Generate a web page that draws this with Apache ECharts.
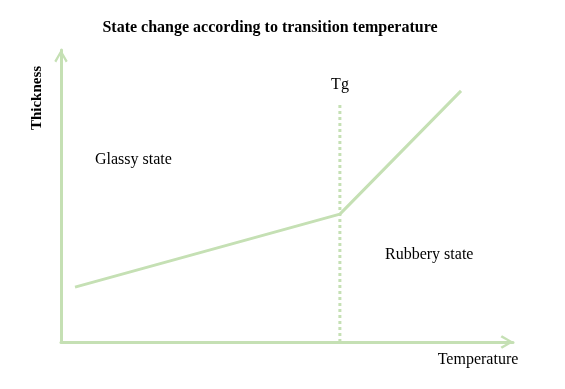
<!DOCTYPE html>
<html>
<head>
<meta charset="utf-8">
<script src="https://cdn.jsdelivr.net/npm/echarts@6/dist/echarts.min.js"></script>
<style>html,body{margin:0;padding:0;background:#fff}#c{width:565px;height:389px}</style>
</head>
<body>
<div id="c"></div>
<script>
const lineX = [3.1, 61.7, 88.5];
const lineY = [18.8, 43.8, 86.0];
const tgX = [61.7, 61.7];
const tgY = [0, 81.8];
const titleText = 'State change according to transition temperature';
const labels = { tg: 'Tg', glassy: 'Glassy state', rubbery: 'Rubbery state', yName: 'Thickness', xName: 'Temperature' };

const green = '#c5e0b4';
const font = '"Liberation Serif","Times New Roman",serif';
const chevron = 'path://M0,12 L7,0 L14,12 L12,13.6 L7,4.4 L2,13.6 Z';
const chart = echarts.init(document.getElementById('c'), null, { renderer: 'canvas' });
const axisCommon = {
  type: 'value', min: 0, max: 100,
  axisLine: { show: true, symbol: ['none', chevron], symbolSize: [14, 13], symbolOffset: [0, -6], lineStyle: { color: green, width: 3 } },
  axisTick: { show: false }, axisLabel: { show: false }, splitLine: { show: false }
};
chart.setOption({
  animation: false,
  backgroundColor: '#fff',
  grid: { left: 61, right: 52, top: 50, bottom: 47 },
  xAxis: axisCommon,
  yAxis: axisCommon,
  series: [
    {
      type: 'line', data: lineX.map((x, i) => [x, lineY[i]]),
      symbol: 'none', lineStyle: { color: green, width: 3 }
    },
    {
      type: 'line', data: tgX.map((x, i) => [x, tgY[i]]),
      symbol: 'none', lineStyle: { color: green, width: 3, type: [3, 3] }
    }
  ],
  graphic: [
    { type: 'text', x: 270, y: 28, style: { text: titleText, font: 'bold 16px ' + font, fill: '#000', align: 'center', verticalAlign: 'middle' } },
    { type: 'text', x: 340, y: 85, style: { text: labels.tg, font: '16px ' + font, fill: '#000', align: 'center', verticalAlign: 'middle' } },
    { type: 'text', x: 95, y: 160, style: { text: labels.glassy, font: '16px ' + font, fill: '#000', verticalAlign: 'middle' } },
    { type: 'text', x: 385, y: 255, style: { text: labels.rubbery, font: '16px ' + font, fill: '#000', verticalAlign: 'middle' } },
    { type: 'text', x: 37, y: 98, rotation: Math.PI / 2, style: { text: labels.yName, font: 'bold 15px ' + font, fill: '#000', align: 'center', verticalAlign: 'middle' } },
    { type: 'text', x: 478, y: 360, style: { text: labels.xName, font: '16px ' + font, fill: '#000', align: 'center', verticalAlign: 'middle' } }
  ]
});
</script>
</body>
</html>
